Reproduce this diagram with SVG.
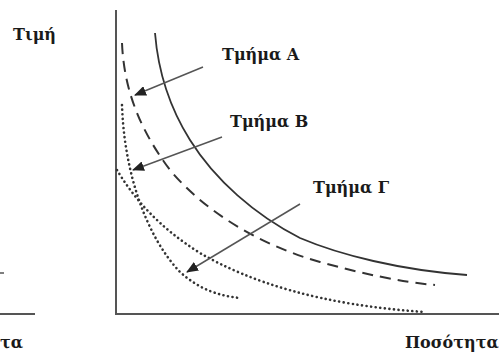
<svg xmlns="http://www.w3.org/2000/svg" width="499" height="356" viewBox="0 0 499 356">
<style>
.t{font-family:"DejaVu Serif","Liberation Serif",serif;font-weight:bold;font-size:16px;fill:#1a1a1a}
.ax{stroke:#555;stroke-width:2;fill:none}
.c{fill:none;stroke:#333;stroke-width:1.8}
.d{stroke-dasharray:11 7;stroke-width:2}
.o{stroke-dasharray:0.1 4.5;stroke-linecap:round;stroke-width:2.6}
.ar{stroke:#555;stroke-width:1.5;fill:none;marker-end:url(#ah)}
</style>
<defs>
<marker id="ah" viewBox="0 0 12 10" refX="11" refY="5" markerWidth="12" markerHeight="10" markerUnits="userSpaceOnUse" orient="auto">
<path d="M0,0 L12,5 L0,10 Z" fill="#222"/>
</marker>
</defs>
<rect width="499" height="356" fill="#fff"/>
<g id="left-panel">
<line class="ax" x1="0" y1="314" x2="35" y2="314"/>
<line x1="0" y1="273" x2="4" y2="273" stroke="#555" stroke-width="1.5"/>
<text class="t" x="13" y="40">Τιμή</text>
<text class="t" x="0" y="348">τα</text>
</g>
<g id="axes">
<line class="ax" x1="116" y1="10" x2="116" y2="315"/>
<line class="ax" x1="115" y1="314" x2="499" y2="314"/>
</g>
<g id="curve-solid"><path class="c" d="M155,33 C158,70 168,105 190,140 C215,180 255,215 300,238 C340,255 400,270 467,275"/></g>
<g id="curve-dashed"><path class="c d" d="M122,43 C124,90 140,130 170,170 C205,212 260,245 320,262 C360,273 400,282 435,285"/></g>
<g id="curve-dotted-inner"><path class="c o" d="M122,105 C124,170 145,235 180,272 C200,290 220,296 240,298"/></g>
<g id="curve-dotted-outer"><path class="c o" d="M117,170 C135,200 160,228 200,253 C250,282 320,305 425,312"/></g>
<g id="connectors">
<line class="ar" x1="203" y1="67" x2="135" y2="95"/>
<line class="ar" x1="222" y1="137" x2="133" y2="170"/>
<line class="ar" x1="300" y1="204" x2="187" y2="272"/>
</g>
<g id="label-A"><text class="t" x="222" y="60">Τμήμα Α</text></g>
<g id="label-B"><text class="t" x="230" y="127">Τμήμα Β</text></g>
<g id="label-G"><text class="t" x="313" y="193">Τμήμα Γ</text></g>
<g id="label-x"><text class="t" x="405" y="348">Ποσότητα</text></g>
</svg>
